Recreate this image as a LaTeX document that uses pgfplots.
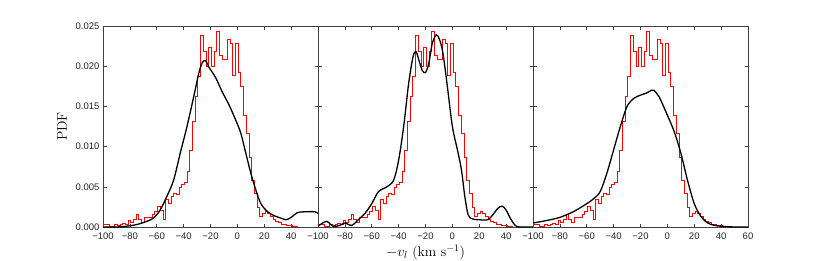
\documentclass[border=0pt]{standalone}
\usepackage{pgfplots}
\pgfplotsset{compat=1.18}
\usepackage{pgfplotstable}
\usepackage{fontspec}
\newfontfamily\ticksf{Liberation Sans}

\pgfplotstableread{
x y
-99.5 0
-99.5 0.0004
-97.5 0.0004
-95.5 0.0001
-93.5 0.0001
-91.5 0.0003
-89.5 0.0002
-87.5 0.0003
-85.5 0.0005
-83.5 0.0004
-81.5 0.0008
-79.5 0.0006
-77.5 0.0010
-75.5 0.0016
-73.5 0.0009
-71.5 0.0006
-69.5 0.0012
-67.5 0.0012
-65.5 0.0012
-63.5 0.0016
-61.5 0.0020
-59.5 0.0026
-57.5 0.0021
-55.5 0.0009
-53.5 0.0034
-51.5 0.0030
-49.5 0.0038
-47.5 0.0042
-45.5 0.0041
-43.5 0.0050
-41.5 0.0053
-39.5 0.0056
-37.5 0.0069
-35.5 0.0096
-33.5 0.0131
-31.5 0.0162
-29.5 0.0187
-27.5 0.0239
-25.5 0.0218
-23.5 0.0200
-21.5 0.0224
-19.5 0.0200
-17.5 0.0218
-15.5 0.0243
-13.5 0.0214
-11.5 0.0208
-9.5 0.0208
-7.5 0.0233
-5.5 0.0228
-3.5 0.0189
-1.5 0.0229
0.5 0.0193
2.5 0.0175
4.5 0.0139
6.5 0.0117
8.5 0.0087
10.5 0.0058
12.5 0.0042
14.5 0.0025
16.5 0.0013
18.5 0.0017
20.5 0.0019
22.5 0.0017
24.5 0.0013
26.5 0.0010
28.5 0.0007
30.5 0.0006
32.5 0.0004
34.5 0.0003
36.5 0.0002
38.5 0.0002
40.5 0.0001
42.5 0.0001
44.5 0
}\hist

\pgfplotstableread{
x y
-100 0.0000
-90 0.0000
-82.5 0.0001
-75 0.0003
-67.5 0.0007
-62.5 0.0011
-57.5 0.0021
-52.5 0.0038
-47.5 0.0058
-42.5 0.0092
-37.5 0.0125
-32.5 0.0162
-28.75 0.0191
-26.25 0.0204
-23.75 0.0207
-21.25 0.0199
-16.25 0.0186
-11.25 0.0168
-6.25 0.0152
-1.25 0.0133
2.5 0.0117
6.25 0.0092
10 0.0067
13.75 0.0046
17.5 0.0029
22.5 0.0019
27.5 0.0014
32.5 0.0011
36.25 0.0009
40 0.0012
45 0.0018
52.5 0.0019
57.5 0.0019
60 0.0017
}\curveA

\pgfplotstableread{
x y
-100 0.0001
-93.75 0.0007
-88.75 0.0001
-83.75 0.0002
-80 0.0005
-75 0.0002
-70 0.0009
-65 0.0017
-60 0.0029
-55 0.0044
-48.75 0.0050
-43.75 0.0058
-40 0.0083
-36.25 0.0125
-32.5 0.0179
-29.25 0.0212
-27 0.0218
-25 0.0208
-22.5 0.0195
-20 0.0192
-17.5 0.0204
-15 0.0228
-12 0.0239
-9.5 0.0233
-7 0.0216
-3.75 0.0175
0 0.0125
3.75 0.0096
6.75 0.0071
9.25 0.0038
11.75 0.0015
15 0.0010
20 0.0009
26.25 0.0009
30 0.0015
33.75 0.0023
37 0.0026
40 0.0021
43.75 0.0009
47.5 0.0001
52.5 0.0000
60 0.0000
}\curveB

\pgfplotstableread{
x y
-100 0.0005
-90 0.0008
-80 0.0012
-70 0.0019
-60 0.0029
-55 0.0035
-50 0.0044
-45 0.0067
-40 0.0096
-35 0.0125
-30 0.0150
-25 0.0160
-20 0.0164
-15 0.0167
-12 0.0170
-10 0.0170
-7 0.0164
-5 0.0158
0 0.0139
5 0.0119
10 0.0092
15 0.0058
20 0.0029
25 0.0013
30 0.0005
35 0.0002
40 0.0001
50 0.0000
60 0.0000
}\curveC

\pgfplotsset{
  panel/.style={
    scale only axis, width=215pt, height=201pt,
    anchor=south west,
    xmin=-100, xmax=60, ymin=0, ymax=0.025,
    xtick={-100,-80,...,60},
    ytick={0,0.005,0.01,0.015,0.02,0.025},
    tick align=inside, tick pos=both,
    major tick length=3.5pt,
    axis line style={black!75, line width=0.7pt},
    tick style={black!75, line width=0.6pt},
    tick label style={font=\ticksf\fontsize{9.5}{11}\selectfont, text=black!85},
    xticklabel style={yshift=-2pt},
    scaled y ticks=false,
    clip=true,
  },
  hst/.style={red, line width=0.55pt, const plot mark left},
  kde/.style={black, line width=1.3pt, smooth, tension=0.5},
}

\begin{document}
\begin{tikzpicture}
\path[use as bounding box] (0,0) rectangle (830pt,260pt);

\begin{axis}[panel, at={(103pt,33pt)},
  xticklabels={−100,−80,−60,−40,−20,0,20,40,{}},
  yticklabels={0.000,0.005,0.010,0.015,0.020,0.025},
  ylabel={PDF}, ylabel style={font=\fontsize{14}{16}\selectfont, yshift=2pt}]
\addplot[hst] table[x=x,y=y] {\hist};
\addplot[kde] table[x=x,y=y] {\curveA};
\end{axis}

\begin{axis}[panel, at={(318pt,33pt)},
  xticklabels={−100,−80,−60,−40,−20,0,20,40,{}},
  yticklabels={},
  xlabel={$-v_l$ (km s$^{-1}$)}, xlabel style={font=\fontsize{14}{16}\selectfont, yshift=1pt}]
\addplot[hst] table[x=x,y=y] {\hist};
\addplot[kde] table[x=x,y=y] {\curveB};
\end{axis}

\begin{axis}[panel, at={(533pt,33pt)},
  xticklabels={−100,−80,−60,−40,−20,0,20,40,60},
  yticklabels={}]
\addplot[hst] table[x=x,y=y] {\hist};
\addplot[kde] table[x=x,y=y] {\curveC};
\end{axis}
\end{tikzpicture}
\end{document}
